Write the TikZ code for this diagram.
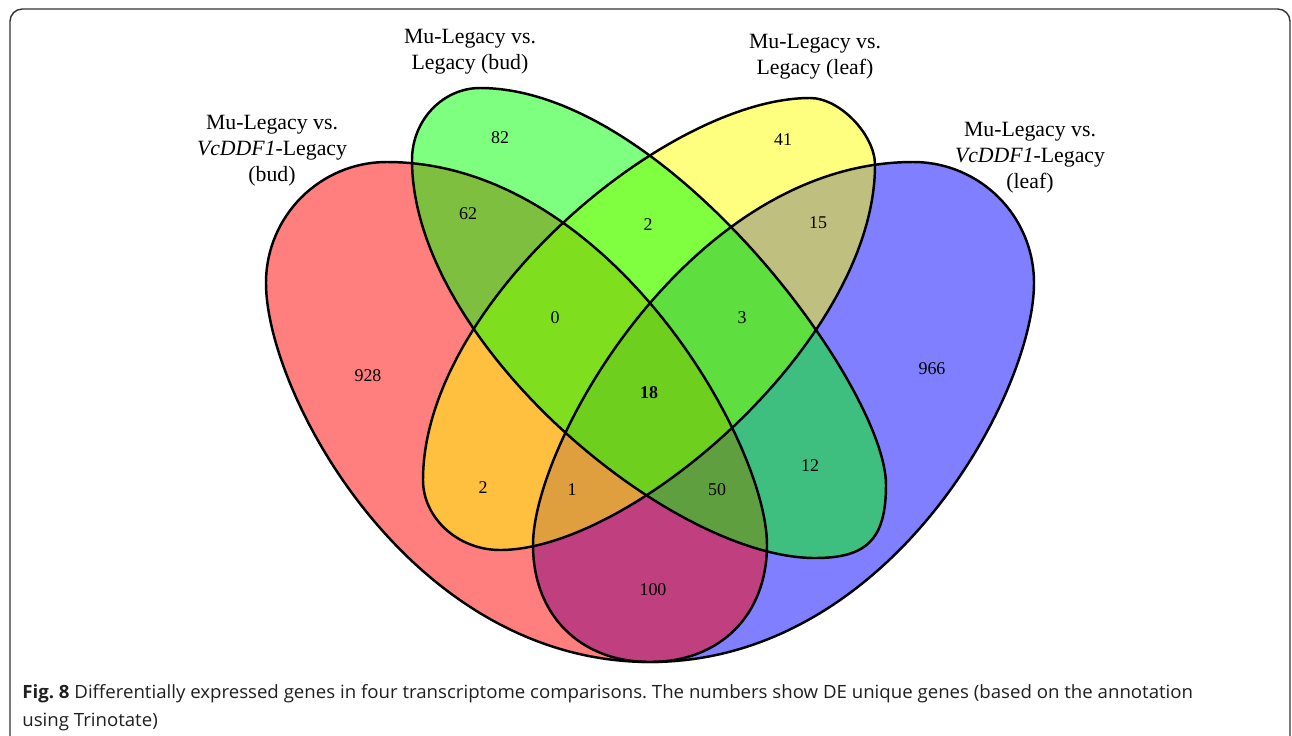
\documentclass[tikz,border=0pt]{standalone}
\usepackage{fontspec}
\setmainfont{Liberation Serif}
\newfontfamily\capfont[FakeStretch=1.02]{Open Sans}
\definecolor{vred}{RGB}{255,0,0}
\definecolor{vgreen}{RGB}{0,255,0}
\definecolor{vyellow}{RGB}{255,255,0}
\definecolor{vblue}{RGB}{0,0,255}
\def\shapeR{(387,162) .. controls (608,162) and (767,442) .. (767,545) .. controls (767,615) and (720,662) .. (650,662) .. controls (410,662) and (266,393) .. (266,283) .. controls (266,216) and (320,162) .. (387,162) -- cycle}
\def\shapeB{(913,162) .. controls (692,162) and (533,442) .. (533,545) .. controls (533,615) and (580,662) .. (650,662) .. controls (890,662) and (1034,393) .. (1034,283) .. controls (1034,216) and (980,162) .. (913,162) -- cycle}
\def\shapeG{(480,88) .. controls (665,88) and (886,387) .. (886,485) .. controls (886,540) and (866,558) .. (815,558) .. controls (670,558) and (412,341) .. (412,160) .. controls (412,120) and (443,88) .. (480,88) -- cycle}
\def\shapeY{(810,98) .. controls (840,98) and (875,135) .. (875,165) .. controls (875,340) and (632,550) .. (500,550) .. controls (458,550) and (423,518) .. (423,480) .. controls (423,304) and (667,98) .. (810,98) -- cycle}
\begin{document}
\begin{tikzpicture}[x=0.02cm,y=-0.02cm,
  vennline/.style={line width=1.4pt, line join=round},
  setfill/.style={fill=#1, fill opacity=0.5},
  lbl/.style={align=center, font=\fontsize{12.4}{14.8}\selectfont, inner sep=0pt},
  num/.style={font=\fontsize{10.2}{12}\selectfont, inner sep=0pt},
  captext/.style={anchor=base west, inner sep=0pt, text=black!88, font=\capfont\fontsize{10.4}{12}\selectfont\frenchspacing}
]
\useasboundingbox (0,0) rectangle (1292,735);
\fill[white] (0,0) rectangle (1292,735);
\draw[line width=0.8pt, draw=black!80, rounded corners=7pt] (10,760) -- (10,9) -- (1290,9) -- (1290,760);
% fills
\fill[setfill=vblue] \shapeB;
\fill[setfill=vred] \shapeR;
\fill[setfill=vyellow] \shapeY;
\fill[setfill=vgreen] \shapeG;
% outlines
\draw[vennline] \shapeB;
\draw[vennline] \shapeR;
\draw[vennline] \shapeY;
\draw[vennline] \shapeG;
% set labels
\node[lbl] (labR) at (272,151) {Mu-Legacy vs.\\\textit{VcDDF1}-Legacy\\(bud)};
\node[lbl] (labG) at (470,52) {Mu-Legacy vs.\\Legacy (bud)};
\node[lbl] (labY) at (815,57) {Mu-Legacy vs.\\Legacy (leaf)};
\node[lbl] (labB) at (1030,158) {Mu-Legacy vs.\\\textit{VcDDF1}-Legacy\\(leaf)};
% counts
\node[num] (n82) at (500,138) {82};
\node[num] (n41) at (783,140) {41};
\node[num] (n62) at (468,214) {62};
\node[num] (n2a) at (648,225) {2};
\node[num] (n15) at (818,223) {15};
\node[num] (n0) at (555,318) {0};
\node[num] (n3) at (742,318) {3};
\node[num] (n928) at (368,376) {928};
\node[num] (n18) at (649,393) {\textbf{18}};
\node[num] (n966) at (932,369) {966};
\node[num] (n2b) at (483,488) {2};
\node[num] (n1) at (572,490) {1};
\node[num] (n50) at (717,490) {50};
\node[num] (n12) at (810,466) {12};
\node[num] (n100) at (653,590) {100};
% caption
\node[captext] (cap1) at (22,698) {\hbox to 23.42cm{\textbf{Fig. 8} Differentially expressed genes in four transcriptome comparisons. The numbers show DE unique genes (based on the annotation}};
\node[captext] (cap2) at (22,726) {using Trinotate)};
\end{tikzpicture}
\end{document}
